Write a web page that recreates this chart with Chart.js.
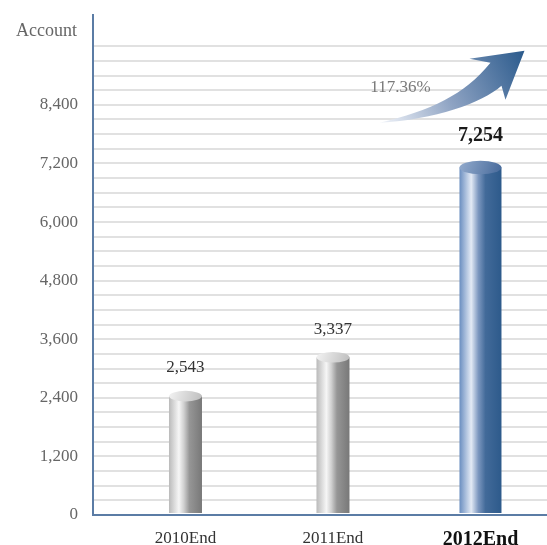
<!DOCTYPE html>
<html>
<head>
<meta charset="utf-8">
<title>Account</title>
<script src="https://cdn.jsdelivr.net/npm/chart.js@4.4.0/dist/chart.umd.min.js"></script>
<style>
    html, body { margin: 0; padding: 0; background: #fff; }
    #wrap { width: 547px; height: 545px; }
</style>
</head>
<body>
<div id="wrap"><canvas id="accountChart"></canvas></div>
<script>
// Chart data
const categories = ['2010End', '2011End', '2012End'];
const accountValues = [2543, 3337, 7254];
const valueLabels = ['2,543', '3,337', '7,254'];
const yTickValues = [0, 1200, 2400, 3600, 4800, 6000, 7200, 8400];
const yTickLabels = ['0', '1,200', '2,400', '3,600', '4,800', '6,000', '7,200', '8,400'];
const growthLabel = '117.36%';
const highlightIndex = 2;

// Horizontal rules every 300, up to 9600
const gridStep = 300;
const gridTop = 9600;

const FONT = '"Liberation Serif", "DejaVu Serif", serif';
const AXIS_COLOR = '#5b7ca5';

// Cylinder colours
const silverPalette = {
    body: [[0, '#bababa'], [0.3, '#f6f6f6'], [0.45, '#d0d0d0'], [0.62, '#969696'], [1, '#787878']],
    cap: ['#f3f3f3', '#bdbdbd']
};
const bluePalette = {
    body: [[0, '#6a8ec0'], [0.28, '#e3eaf5'], [0.45, '#7c97bf'], [0.62, '#426a99'], [1, '#2d5a8b']],
    cap: ['#93abcd', '#46699a']
};

// Draw one cylinder from a bar element
function drawCylinder(ctx, p, palette) {
    const left = p.x - p.width / 2;
    const right = p.x + p.width / 2;
    const ry = p.width * 0.16;
    const capY = p.y + ry;

    const bodyGrad = ctx.createLinearGradient(left, 0, right, 0);
    palette.body.forEach(([stop, color]) => bodyGrad.addColorStop(stop, color));
    ctx.fillStyle = bodyGrad;
    ctx.fillRect(left, capY, p.width, p.base - 1 - capY);

    const capGrad = ctx.createLinearGradient(left, p.y, right, p.y + ry * 2);
    capGrad.addColorStop(0, palette.cap[0]);
    capGrad.addColorStop(1, palette.cap[1]);
    ctx.fillStyle = capGrad;
    ctx.beginPath();
    ctx.ellipse(p.x, capY, p.width / 2, ry, 0, 0, Math.PI * 2);
    ctx.fill();
}

// Growth arrow above the highlighted bar
function drawGrowthArrow(ctx, bx, by) {
    const pt = (dx, dy) => [bx + dx, by + dy];
    const tail = pt(-101, -38);
    const tip = pt(44, -110);

    const grad = ctx.createLinearGradient(tail[0], tail[1], tip[0], tip[1]);
    grad.addColorStop(0, '#f2f5fa');
    grad.addColorStop(0.45, '#8ea3c3');
    grad.addColorStop(1, '#2b5a8c');

    ctx.beginPath();
    ctx.moveTo(...tail);
    ctx.bezierCurveTo(...pt(-50, -50), ...pt(-16, -66), ...pt(10, -98));
    ctx.lineTo(...pt(-11, -102));
    ctx.lineTo(...tip);
    ctx.lineTo(...pt(25, -61));
    ctx.lineTo(...pt(21, -75));
    ctx.bezierCurveTo(...pt(2, -58), ...pt(-46, -41), ...tail);
    ctx.closePath();
    ctx.fillStyle = grad;
    ctx.fill();

    ctx.font = '17px ' + FONT;
    ctx.fillStyle = '#7a7a7a';
    ctx.textAlign = 'center';
    ctx.textBaseline = 'middle';
    ctx.fillText(growthLabel, ...pt(-80, -73));
}

const cylinderPlugin = {
    id: 'cylinders',
    afterDatasetsDraw(chart) {
        const ctx = chart.ctx;
        ctx.save();
        chart.data.datasets.forEach((ds, di) => {
            const meta = chart.getDatasetMeta(di);
            meta.data.forEach((bar, j) => {
                const idx = ds.data[j].x;
                const p = bar.getProps(['x', 'y', 'base', 'width'], true);
                const isHighlight = idx === highlightIndex;
                drawCylinder(ctx, p, isHighlight ? bluePalette : silverPalette);

                // Value label
                ctx.font = (isHighlight ? 'bold 20px ' : '17px ') + FONT;
                ctx.fillStyle = isHighlight ? '#1a1a1a' : '#333';
                ctx.textAlign = 'center';
                ctx.textBaseline = 'middle';
                ctx.fillText(valueLabels[idx], p.x, p.y - (isHighlight ? 25 : 23));

                if (isHighlight) drawGrowthArrow(ctx, p.x, p.y);
            });
        });

        // Axis caption
        ctx.font = '18px ' + FONT;
        ctx.fillStyle = '#666';
        ctx.textAlign = 'right';
        ctx.textBaseline = 'middle';
        ctx.fillText('Account', chart.chartArea.left - 16, 31);
        ctx.restore();
    }
};

function buildDatasets() {
    const points = categories.map((c, i) => ({ x: i, y: accountValues[i] }));
    const common = { backgroundColor: 'rgba(0,0,0,0)', borderWidth: 0, grouped: false };
    return [
        { ...common, label: 'Account', data: points.filter(p => p.x !== highlightIndex), barThickness: 33 },
        { ...common, label: 'Account', data: points.filter(p => p.x === highlightIndex), barThickness: 42 }
    ];
}

document.addEventListener('DOMContentLoaded', function() {
    const ctx = document.getElementById('accountChart');
    new Chart(ctx, {
        type: 'bar',
        data: { datasets: buildDatasets() },
        plugins: [cylinderPlugin],
        options: {
            responsive: true,
            maintainAspectRatio: false,
            animation: false,
            layout: { padding: { top: 15, right: 0, bottom: 0, left: 0 } },
            plugins: {
                legend: { display: false },
                tooltip: { enabled: false }
            },
            scales: {
                x: {
                    type: 'linear',
                    offset: false,
                    min: -0.627,
                    max: 2.451,
                    grid: { display: false, offset: false },
                    border: { color: AXIS_COLOR, width: 2 },
                    afterBuildTicks: axis => {
                        axis.ticks = categories.map((c, i) => ({ value: i }));
                    },
                    afterFit: scale => {
                        scale.height = 30;
                        scale.paddingLeft = 0;
                        scale.paddingRight = 0;
                    },
                    ticks: {
                        autoSkip: false,
                        maxRotation: 0,
                        padding: 5,
                        callback: value => categories[value],
                        color: c => c.index === highlightIndex ? '#111' : '#333',
                        font: c => c.index === highlightIndex
                            ? { family: FONT, size: 20, weight: 'bold' }
                            : { family: FONT, size: 17 }
                    }
                },
                y: {
                    min: 0,
                    max: 10240,
                    grid: { color: '#e1e1e1', lineWidth: 2, drawTicks: false },
                    border: { color: AXIS_COLOR, width: 2 },
                    afterBuildTicks: axis => {
                        const ticks = [];
                        for (let v = 0; v <= gridTop; v += gridStep) ticks.push({ value: v });
                        axis.ticks = ticks;
                    },
                    afterFit: scale => {
                        scale.width = 93;
                        scale.paddingTop = 0;
                        scale.paddingBottom = 0;
                    },
                    ticks: {
                        autoSkip: false,
                        padding: 15,
                        color: '#666',
                        font: { family: FONT, size: 17 },
                        callback: value => {
                            const i = yTickValues.indexOf(value);
                            return i >= 0 ? yTickLabels[i] : '';
                        }
                    }
                }
            }
        }
    });
});
</script>
</body>
</html>
